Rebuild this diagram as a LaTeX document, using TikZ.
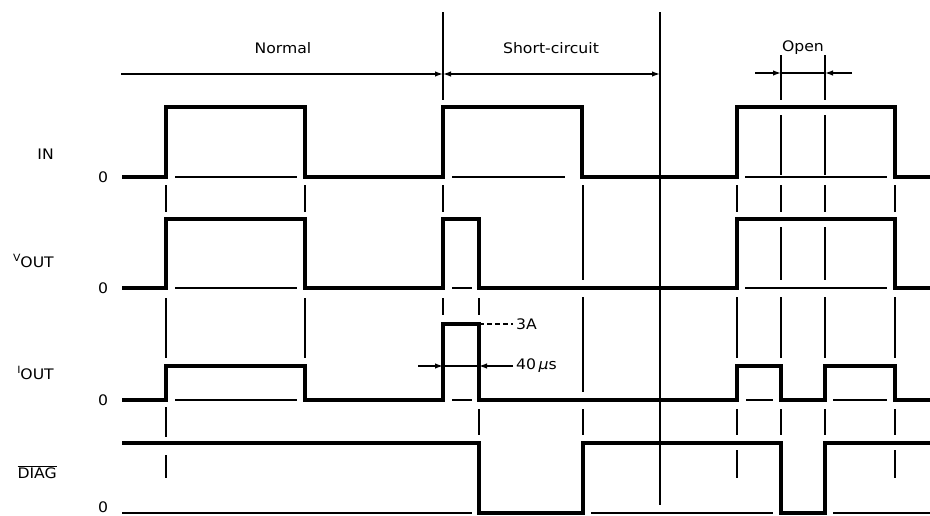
\documentclass[tikz,border=0pt]{standalone}
\usepackage{fontspec}
\setmainfont{DejaVu Sans}[FakeStretch=1.08]
\usetikzlibrary{arrows.meta}
\begin{document}
\begin{tikzpicture}[x=1pt,y=-1pt,
  trace/.style={line width=3.5pt, line join=miter, line cap=butt},
  thinline/.style={line width=1.3pt},
  dimarrow/.style={line width=1.3pt, -{Latex[length=8pt,width=5.5pt]}},
  lbl/.style={font=\fontsize{14.5}{16}\selectfont, inner sep=0pt}]
\useasboundingbox (0,0) rectangle (930,515);

% ---- guide marks (thin vertical segments) ----
\foreach \x/\a/\b in {
  166/185/212, 166/298/358, 166/407/437, 166/455/478,
  305/185/212, 305/298/358,
  443/12/100, 443/185/212, 443/298/315,
  479/298/315, 479/409/435,
  583/185/280, 583/297/392, 583/409/435,
  660/12/505,
  737/185/212, 737/297/358, 737/409/435, 737/450/478,
  781/55/100, 781/115/175, 781/185/212, 781/227/280, 781/297/358, 781/409/435,
  825/55/100, 825/115/175, 825/185/212, 825/227/280, 825/297/358, 825/409/435,
  895/185/212, 895/297/358, 895/409/435, 895/450/478}
  \draw[thinline] (\x,\a) -- (\x,\b);

% ---- zero-level thin lines ----
\foreach \a/\b/\y in {
  175/297/177, 452/565/177, 745/887/177,
  175/297/288, 452/472/288, 745/887/288,
  175/297/400, 452/472/400, 746/773/400, 833/887/400,
  122/472/513, 591/773/513, 833/930/513}
  \draw[thinline] (\a,\y) -- (\b,\y);

% ---- traces ----
\draw[trace] (122,177) -- (166,177) -- (166,107) -- (305,107) -- (305,177)
  -- (443,177) -- (443,107) -- (582,107) -- (582,177) -- (737,177)
  -- (737,107) -- (895,107) -- (895,177) -- (930,177);
\draw[trace] (122,288) -- (166,288) -- (166,219) -- (305,219) -- (305,288)
  -- (443,288) -- (443,219) -- (479,219) -- (479,288) -- (737,288)
  -- (737,219) -- (895,219) -- (895,288) -- (930,288);
\draw[trace] (122,400) -- (166,400) -- (166,366) -- (305,366) -- (305,400)
  -- (443,400) -- (443,324) -- (479,324) -- (479,400) -- (737,400)
  -- (737,366) -- (781,366) -- (781,400) -- (825,400) -- (825,366)
  -- (895,366) -- (895,400) -- (930,400);
\draw[trace] (122,443) -- (479,443) -- (479,513) -- (583,513) -- (583,443)
  -- (781,443) -- (781,513) -- (825,513) -- (825,443) -- (930,443);

% ---- period arrows ----
\coordinate (nA) at (121,74);
\coordinate (nB) at (443,74);
\coordinate (sB) at (660,74);
\draw[dimarrow] (nA) -- (nB);
\draw[line width=1.3pt, {Latex[length=8pt,width=5.5pt]}-{Latex[length=8pt,width=5.5pt]}] (nB) -- (sB);
\coordinate (oA) at (755,73);
\coordinate (oB) at (781,73);
\coordinate (oC) at (825,73);
\coordinate (oD) at (852,73);
\draw[dimarrow] (oA) -- (oB);
\draw[thinline] (oB) -- (oC);
\draw[dimarrow] (oD) -- (oC);

\node[lbl] (tNormal) at (283,48) {Normal};
\node[lbl] (tShort) at (551,48) {Short-circuit};
\node[lbl] (tOpen) at (803,48) {Open};

% ---- 3A and 40 us ----
\coordinate (pA) at (479,324);
\coordinate (pB) at (513,324);
\draw[thinline, dash pattern=on 5pt off 3pt] (pA) -- (pB);
\node[lbl, anchor=west] (t3A) at (516,324) {3A};
\coordinate (wA) at (418,366);
\coordinate (wB) at (443,366);
\coordinate (wC) at (479,366);
\coordinate (wD) at (513,366);
\draw[dimarrow] (wA) -- (wB);
\draw[thinline] (wB) -- (wC);
\draw[dimarrow] (wD) -- (wC);
\node[lbl, anchor=west] (t40) at (516,366) {40\,{\itshape μ}s};

% ---- signal labels ----
\node[lbl, anchor=east] (lIN) at (54,154) {IN};
\node[lbl, anchor=east] (lVOUT) at (54,261) {\raisebox{6pt}{\fontsize{10}{11}\selectfont V}OUT};
\node[lbl, anchor=east] (lIOUT) at (54,373) {\raisebox{6pt}{\fontsize{10}{11}\selectfont I}OUT};
\node[lbl, anchor=east] (lDIAG) at (57,472) {$\overline{\mbox{DIAG}}$};
\node[lbl] (z1) at (103,177) {0};
\node[lbl] (z2) at (103,288) {0};
\node[lbl] (z3) at (103,400) {0};
\node[lbl] (z4) at (103,507) {0};
\end{tikzpicture}
\end{document}
